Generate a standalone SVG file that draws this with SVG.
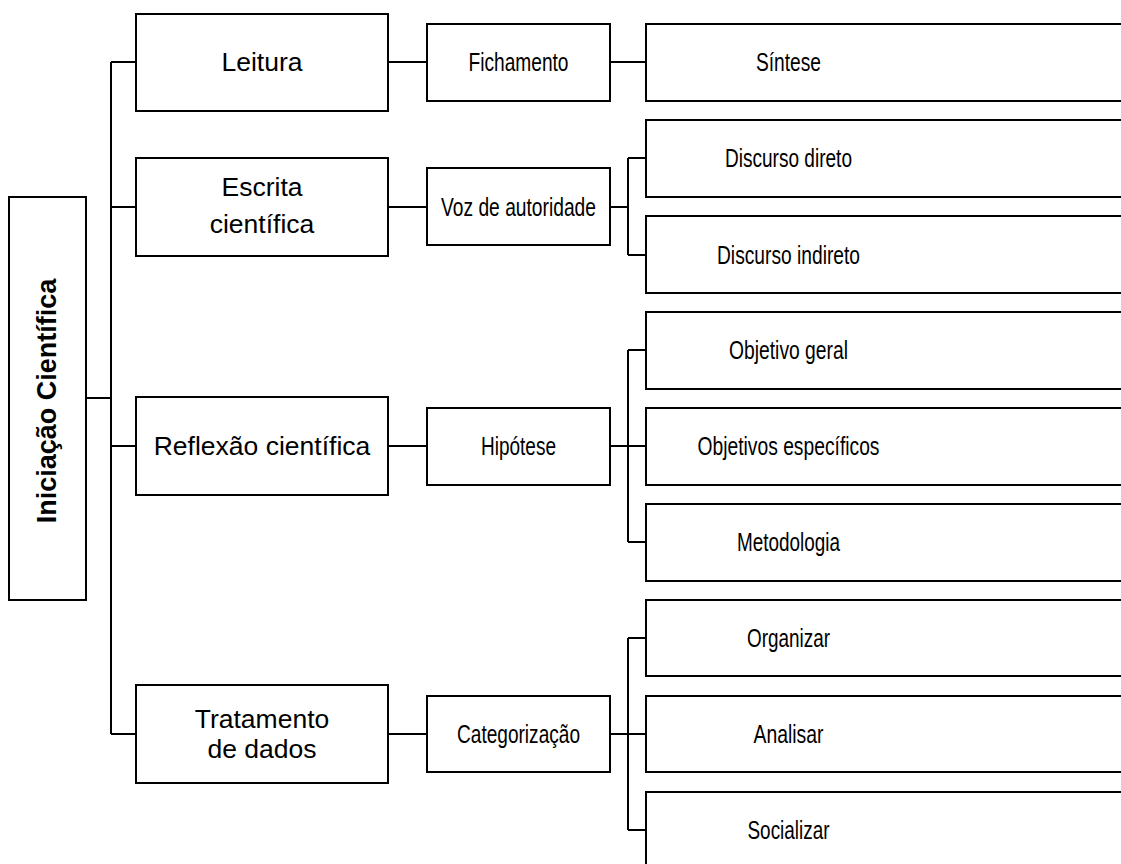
<svg xmlns="http://www.w3.org/2000/svg" width="1121" height="864" viewBox="0 0 1121 864">
<style>
.box{fill:#fff;stroke:#000;stroke-width:2}
.ln{fill:none;stroke:#000;stroke-width:2}
.t1{font-family:"Liberation Sans",Arial,sans-serif;font-size:26.5px;fill:#000;text-anchor:middle}
.t2{font-family:"Liberation Sans",Arial,sans-serif;font-size:25.5px;fill:#000;text-anchor:middle}
.root{font-family:"Liberation Sans",Arial,sans-serif;font-size:27px;font-weight:bold;fill:#000;text-anchor:middle}
</style>
<rect width="1121" height="864" fill="#fff"/>
<g id="connectors">
<path class="ln" d="M86 398H111M111 62V734M111 62H136M111 207H136M111 446H136M111 734H136"/>
<path class="ln" d="M388 62H427M388 207H427M388 446H427M388 734H427"/>
<path class="ln" d="M610 62H646"/>
<path class="ln" d="M610 207H628M628 158V255M628 158H646M628 255H646"/>
<path class="ln" d="M610 446H646M628 350V542M628 350H646M628 542H646"/>
<path class="ln" d="M610 734H646M628 638V830M628 638H646M628 830H646"/>
</g>
<g id="root"><rect class="box" x="9" y="197" width="77" height="403"/><text class="root" transform="translate(56 401) rotate(-90)">Iniciação Científica</text></g>
<g id="leitura"><rect class="box" x="136" y="14" width="252" height="97"/><text class="t1" x="262" y="71">Leitura</text></g>
<g id="escrita"><rect class="box" x="136" y="158" width="252" height="98"/><text class="t1" x="262" y="196">Escrita</text><text class="t1" x="262" y="233">científica</text></g>
<g id="reflexao"><rect class="box" x="136" y="397" width="252" height="98"/><text class="t1" x="262" y="455">Reflexão científica</text></g>
<g id="tratamento"><rect class="box" x="136" y="685" width="252" height="98"/><text class="t1" x="262" y="728">Tratamento</text><text class="t1" x="262" y="758">de dados</text></g>
<g id="fichamento"><rect class="box" x="427" y="24" width="183" height="77"/><text class="t2" x="518.5" y="71" textLength="100" lengthAdjust="spacingAndGlyphs">Fichamento</text></g>
<g id="voz"><rect class="box" x="427" y="168" width="183" height="77"/><text class="t2" x="518.5" y="216" textLength="155" lengthAdjust="spacingAndGlyphs">Voz de autoridade</text></g>
<g id="hipotese"><rect class="box" x="427" y="408" width="183" height="77"/><text class="t2" x="518.5" y="455" textLength="75" lengthAdjust="spacingAndGlyphs">Hipótese</text></g>
<g id="categorizacao"><rect class="box" x="427" y="696" width="183" height="76"/><text class="t2" x="518.5" y="743" textLength="123" lengthAdjust="spacingAndGlyphs">Categorização</text></g>
<g id="sintese"><rect class="box" x="646" y="24" width="490" height="77"/><text class="t2" x="788.5" y="71" textLength="65" lengthAdjust="spacingAndGlyphs">Síntese</text></g>
<g id="direto"><rect class="box" x="646" y="120" width="490" height="77"/><text class="t2" x="788.5" y="167" textLength="127" lengthAdjust="spacingAndGlyphs">Discurso direto</text></g>
<g id="indireto"><rect class="box" x="646" y="216" width="490" height="77"/><text class="t2" x="788.5" y="264" textLength="143" lengthAdjust="spacingAndGlyphs">Discurso indireto</text></g>
<g id="objgeral"><rect class="box" x="646" y="312" width="490" height="77"/><text class="t2" x="788.5" y="359" textLength="119" lengthAdjust="spacingAndGlyphs">Objetivo geral</text></g>
<g id="objesp"><rect class="box" x="646" y="408" width="490" height="77"/><text class="t2" x="788.5" y="455" textLength="182" lengthAdjust="spacingAndGlyphs">Objetivos específicos</text></g>
<g id="metodologia"><rect class="box" x="646" y="504" width="490" height="77"/><text class="t2" x="788.5" y="551" textLength="103" lengthAdjust="spacingAndGlyphs">Metodologia</text></g>
<g id="organizar"><rect class="box" x="646" y="600" width="490" height="76"/><text class="t2" x="788.5" y="647" textLength="83" lengthAdjust="spacingAndGlyphs">Organizar</text></g>
<g id="analisar"><rect class="box" x="646" y="696" width="490" height="76"/><text class="t2" x="788.5" y="743" textLength="70" lengthAdjust="spacingAndGlyphs">Analisar</text></g>
<g id="socializar"><rect class="box" x="646" y="792" width="490" height="77"/><text class="t2" x="788.5" y="839" textLength="82" lengthAdjust="spacingAndGlyphs">Socializar</text></g>
</svg>
